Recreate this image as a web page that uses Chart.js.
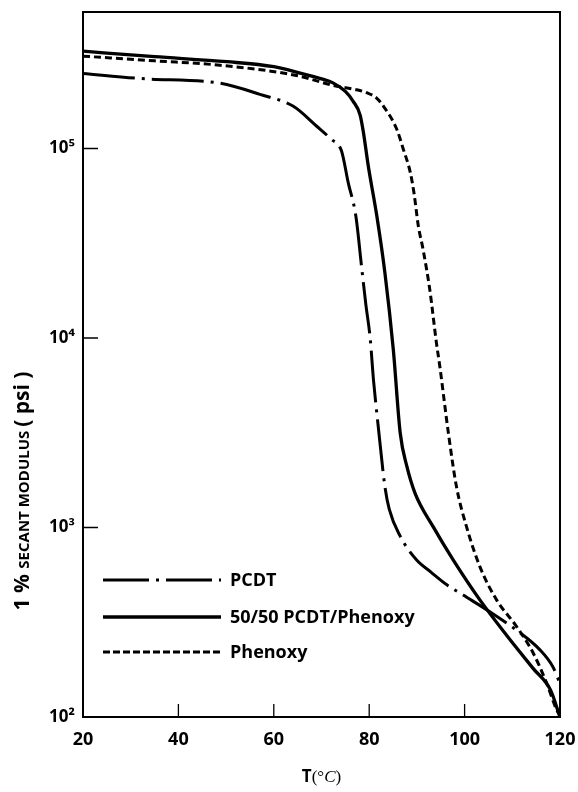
<!DOCTYPE html>
<html>
<head>
<meta charset="utf-8">
<script src="https://cdn.jsdelivr.net/npm/chart.js@4.4.0/dist/chart.umd.min.js"></script>
<style>
  html, body { margin: 0; padding: 0; background: #fff; }
  canvas { display: block; }
</style>
</head>
<body>
<canvas id="myChart" width="578" height="792"></canvas>
<script>
// temperatura (°C) y modulo secante al 1% (psi) de cada material
const tempPCDT = [20, 32, 48.7, 57.1, 64.1, 69, 72, 74.2, 75.6, 77.2, 78.4, 79.3, 80.2, 80.9, 81.9, 83.3, 84.2, 86.5, 89.9, 93, 96.2, 99.7, 105.3, 110.8, 115.8, 118.5, 120];
const modPCDT  = [2.49e5, 2.34e5, 2.21e5, 1.93e5, 1.67e5, 1.31e5, 1.12e5, 9.7e4, 6.6e4, 4.4e4, 2.38e4, 1.5e4, 1.0e4, 6.0e3, 3.4e3, 1.64e3, 1.25e3, 900, 675, 580, 500, 440, 359, 288, 226, 184, 150];

const tempMezcla = [20, 35, 50.2, 60, 65.5, 70, 72.4, 75, 76.6, 78.1, 78.8, 79.8, 81.6, 83.3, 85.05, 86.5, 87.9, 89.6, 93.4, 97.6, 103.2, 108.8, 114.4, 118, 120];
const modMezcla  = [3.26e5, 3.05e5, 2.87e5, 2.7e5, 2.5e5, 2.33e5, 2.22e5, 2.0e5, 1.78e5, 1.5e5, 1.21e5, 8.1e4, 4.4e4, 2.2e4, 8.7e3, 3150, 2100, 1520, 1010, 675, 415, 270, 180, 139, 100];

const tempFenoxi = [20, 35, 48.7, 65, 72.5, 77, 79.5, 81.5, 83, 85.8, 87.1, 88.6, 89.4, 90.3, 91.3, 92.7, 94.1, 94.8, 96.6, 98.3, 100.4, 103.2, 106.7, 110.9, 114.4, 117.2, 119.3, 120];
const modFenoxi  = [3.07e5, 2.9e5, 2.75e5, 2.42e5, 2.15e5, 2.05e5, 1.97e5, 1.85e5, 1.67e5, 1.26e5, 1.0e5, 7.5e4, 5.8e4, 3.9e4, 2.93e4, 1.8e4, 9.4e3, 7.1e3, 3150, 1640, 1010, 622, 415, 300, 217, 151, 109, 102];

const etiquetas = ["PCDT", "50/50 PCDT/Phenoxy", "Phenoxy"];
const ticksX = [20, 40, 60, 80, 100, 120];
const ticksY = [1e2, 1e3, 1e4, 1e5];

const sup = { "2": "\u00B2", "3": "\u00B3", "4": "\u2074", "5": "\u2075" };

function puntos(xs, ys) {
  return xs.map((x, i) => ({ x: x, y: ys[i] }));
}

// marco superior/derecho y marcas hacia adentro
const marco = {
  id: "marco",
  afterDraw(chart) {
    const { ctx, chartArea: a, scales } = chart;
    ctx.save();
    ctx.strokeStyle = "#000";
    ctx.lineWidth = 2;
    ctx.strokeRect(a.left, a.top, a.right - a.left, a.bottom - a.top);
    ctx.lineWidth = 1.3;
    ctx.beginPath();
    ticksX.slice(1, -1).forEach(v => {
      const px = scales.x.getPixelForValue(v);
      ctx.moveTo(px, a.bottom); ctx.lineTo(px, a.bottom - 13);
    });
    ticksY.slice(1).forEach(v => {
      const py = scales.y.getPixelForValue(v);
      ctx.moveTo(a.left, py); ctx.lineTo(a.left + 15, py);
    });
    ctx.stroke();
    ctx.restore();
  }
};

// leyenda dentro del area de la grafica
const leyenda = {
  id: "leyenda",
  afterDatasetsDraw(chart) {
    const ctx = chart.ctx;
    const filas = [580, 617, 652];
    ctx.save();
    chart.data.datasets.forEach((ds, i) => {
      const y = filas[i];
      ctx.strokeStyle = "#000";
      ctx.lineWidth = ds.borderWidth;
      ctx.lineCap = "butt";
      ctx.setLineDash(ds.legendDash);
      ctx.beginPath();
      ctx.moveTo(103, y);
      ctx.lineTo(221, y);
      ctx.stroke();
      ctx.setLineDash([]);
      ctx.fillStyle = "#000";
      ctx.font = "bold 18px 'Open Sans'";
      ctx.textBaseline = "middle";
      ctx.fillText(ds.label, 230, y + 1);
    });
    ctx.restore();
  }
};

// titulos de los ejes
const titulos = {
  id: "titulos",
  afterDraw(chart) {
    const ctx = chart.ctx;
    const a = chart.chartArea;
    ctx.save();
    ctx.fillStyle = "#000";
    ctx.textBaseline = "alphabetic";

    // eje y, con versalitas
    const partes = [
      ["1 % ", "bold 21px 'Open Sans'"],
      ["SECANT MODULUS ", "bold 15px 'Open Sans'"],
      ["( psi )", "bold 21px 'Open Sans'"]
    ];
    let total = 0;
    partes.forEach(p => { ctx.font = p[1]; total += ctx.measureText(p[0]).width; });
    ctx.translate(29, 491);
    ctx.rotate(-Math.PI / 2);
    let x = -total / 2;
    partes.forEach(p => {
      ctx.font = p[1];
      ctx.fillText(p[0], x, 0);
      x += ctx.measureText(p[0]).width;
    });
    ctx.setTransform(1, 0, 0, 1, 0, 0);

    // eje x
    const piezas = [
      ["T", "bold 17px 'Open Sans'"],
      ["(\u00B0", "17px 'Liberation Serif'"],
      ["C", "italic 17px 'Liberation Serif'"],
      [")", "17px 'Liberation Serif'"]
    ];
    total = 0;
    piezas.forEach(p => { ctx.font = p[1]; total += ctx.measureText(p[0]).width; });
    x = (a.left + a.right) / 2 - total / 2;
    piezas.forEach(p => {
      ctx.font = p[1];
      ctx.fillText(p[0], x, 782);
      x += ctx.measureText(p[0]).width;
    });
    ctx.restore();
  }
};

const grafica = document.getElementById("myChart").getContext("2d");

const myChart = new Chart(grafica, {
  type: "line",
  data: {
    datasets: [
      {
        label: etiquetas[0],
        data: puntos(tempPCDT, modPCDT),
        borderColor: "#000",
        borderWidth: 3,
        borderDash: [52, 7, 3, 7],
        legendDash: [46, 7, 3, 7],
        cubicInterpolationMode: "monotone",
        pointRadius: 0
      },
      {
        label: etiquetas[1],
        data: puntos(tempMezcla, modMezcla),
        borderColor: "#000",
        borderWidth: 3.3,
        borderDash: [],
        legendDash: [],
        cubicInterpolationMode: "monotone",
        pointRadius: 0
      },
      {
        label: etiquetas[2],
        data: puntos(tempFenoxi, modFenoxi),
        borderColor: "#000",
        borderWidth: 3,
        borderDash: [7, 4],
        legendDash: [7, 3],
        cubicInterpolationMode: "monotone",
        pointRadius: 0
      }
    ]
  },
  options: {
    responsive: false,
    animation: false,
    layout: { padding: { top: 12, right: 18, left: 0, bottom: 0 } },
    plugins: {
      legend: { display: false },
      tooltip: { enabled: false }
    },
    scales: {
      x: {
        type: "linear",
        min: 20,
        max: 120,
        afterBuildTicks: s => { s.ticks = ticksX.map(v => ({ value: v })); },
        afterFit: s => { s.height = 75; s.paddingLeft = 0; s.paddingRight = 0; },
        grid: { drawOnChartArea: false, drawTicks: false },
        border: { color: "#000", width: 2 },
        ticks: {
          color: "#000",
          padding: 12,
          maxRotation: 0,
          font: { family: "'Open Sans'", size: 18, weight: "bold" }
        }
      },
      y: {
        type: "logarithmic",
        min: 100,
        max: 5.25e5,
        afterBuildTicks: s => { s.ticks = ticksY.map(v => ({ value: v })); },
        afterFit: s => { s.width = 83; s.paddingTop = 0; s.paddingBottom = 0; },
        grid: { drawOnChartArea: false, drawTicks: false },
        border: { color: "#000", width: 2 },
        ticks: {
          color: "#000",
          padding: 8,
          font: { family: "'Open Sans'", size: 17, weight: "bold" },
          callback: v => "10" + sup[String(Math.round(Math.log10(v)))]
        }
      }
    }
  },
  plugins: [marco, leyenda, titulos]
});
</script>
</body>
</html>
